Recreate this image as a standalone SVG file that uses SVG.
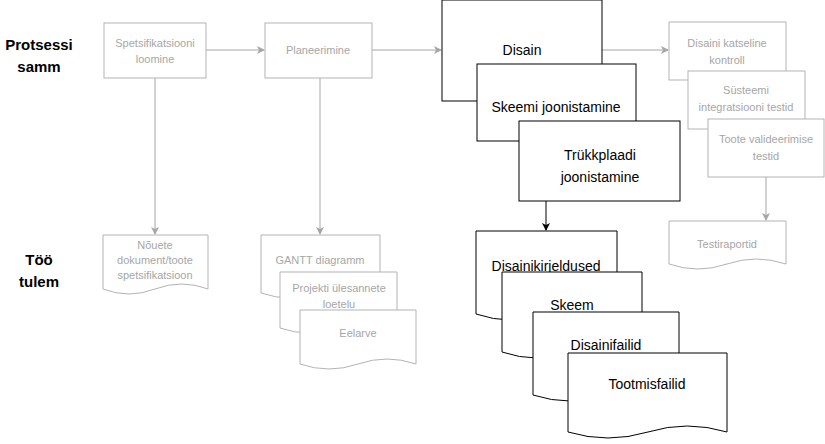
<svg xmlns="http://www.w3.org/2000/svg" width="825" height="444" viewBox="0 0 825 444">
<defs>
<marker id="ag" markerWidth="8" markerHeight="8" refX="7" refY="4" orient="auto" markerUnits="userSpaceOnUse"><path d="M0,0 L8,4 L0,8 L2,4 Z" fill="#a6a6a6"/></marker>
<marker id="ab" markerWidth="8" markerHeight="8" refX="7" refY="4" orient="auto" markerUnits="userSpaceOnUse"><path d="M0,0 L8,4 L0,8 L2,4 Z" fill="#000"/></marker>
</defs>
<style>
.g{fill:#fff;stroke:#b3b3b3;stroke-width:1}
.b{fill:#fff;stroke:#000;stroke-width:1}
.gt{font-family:"Liberation Sans",Arial,sans-serif;font-size:11px;fill:#a6a6a6;text-anchor:middle}
.bt{font-family:"Liberation Sans",Arial,sans-serif;font-size:14px;fill:#000;text-anchor:middle}
.lb{font-family:"Liberation Sans",Arial,sans-serif;font-size:15px;font-weight:bold;fill:#000;text-anchor:middle}
.gc{stroke:#a6a6a6;fill:none;marker-end:url(#ag)}
.bc{stroke:#000;fill:none;marker-end:url(#ab)}
</style>
<text class="lb" x="39" y="50">Protsessi</text><text class="lb" x="39" y="72">samm</text>
<text class="lb" x="39" y="265">Töö</text><text class="lb" x="39" y="287">tulem</text>
<g id="connectors">
<path class="gc" d="M206,50 H264"/>
<path class="gc" d="M372,50 H441"/>
<path class="gc" d="M602,50 H668"/>
<path class="gc" d="M155,78 V234"/>
<path class="gc" d="M320,78 V234"/>
<path class="gc" d="M766,177 V220"/>
<path class="bc" d="M546,201 V230"/>
</g>
<g id="n1"><rect class="g" x="104" y="23" width="102" height="55"/><text class="gt" x="155" y="47">Spetsifikatsiooni</text><text class="gt" x="155" y="63">loomine</text></g>
<g id="n2"><rect class="g" x="265" y="23" width="107" height="55"/><text class="gt" x="318" y="54">Planeerimine</text></g>
<g id="n3"><rect class="b" x="442" y="0" width="160" height="101"/><text class="bt" x="522" y="55">Disain</text></g>
<g id="n4"><rect class="b" x="477" y="64" width="159" height="77"/><text class="bt" x="556" y="112">Skeemi joonistamine</text></g>
<g id="n5"><rect class="b" x="519" y="121" width="161" height="80"/><text class="bt" x="600" y="160">Trükkplaadi</text><text class="bt" x="600" y="182">joonistamine</text></g>
<g id="n6"><rect class="g" x="669" y="22" width="117" height="58"/><text class="gt" x="727" y="47">Disaini katseline</text><text class="gt" x="727" y="64">kontroll</text></g>
<g id="n7"><rect class="g" x="688" y="71" width="117" height="58"/><text class="gt" x="746" y="94">Süsteemi</text><text class="gt" x="746" y="111">integratsiooni testid</text></g>
<g id="n8"><rect class="g" x="708" y="119" width="116" height="58"/><text class="gt" x="766" y="143">Toote valideerimise</text><text class="gt" x="766" y="160">testid</text></g>
<g id="n9"><path class="g" d="M669,221 H786 V264 Q756,254 727,264 Q698,274 669,264 Z"/><text class="gt" x="727" y="248">Testiraportid</text></g>
<g id="d1"><path class="g" d="M103,235 H208 V289 Q182,279 155,289 Q129,299 103,289 Z"/><text class="gt" x="155" y="249">Nõuete</text><text class="gt" x="155" y="264">dokument/toote</text><text class="gt" x="155" y="279">spetsifikatsioon</text></g>
<g id="d2"><path class="g" d="M261,235 H380 V293 Q350,283 320,293 Q290,303 261,293 Z"/><text class="gt" x="320" y="264">GANTT diagramm</text></g>
<g id="d3"><path class="g" d="M280,272 H397 V328 Q368,318 338,328 Q309,338 280,328 Z"/><text class="gt" x="339" y="292">Projekti ülesannete</text><text class="gt" x="339" y="308">loetelu</text></g>
<g id="d4"><path class="g" d="M300,310 H416 V364 Q387,354 358,364 Q329,374 300,364 Z"/><text class="gt" x="358" y="337">Eelarve</text></g>
<g id="d5"><path class="b" d="M476,231 H617 V314 Q582,302 546,314 Q511,326 476,314 Z"/><text class="bt" x="546" y="271">Disainikirjeldused</text></g>
<g id="d6"><path class="b" d="M502,272 H642 V352 Q607,340 572,352 Q537,364 502,352 Z"/><text class="bt" x="572" y="310">Skeem</text></g>
<g id="d7"><path class="b" d="M533,312 H679 V395 Q642,383 606,395 Q570,407 533,395 Z"/><text class="bt" x="606" y="350">Disainifailid</text></g>
<g id="d8"><path class="b" d="M568,353 H727 V432 Q687,420 648,432 Q608,444 568,432 Z"/><text class="bt" x="647" y="389">Tootmisfailid</text></g>
</svg>
